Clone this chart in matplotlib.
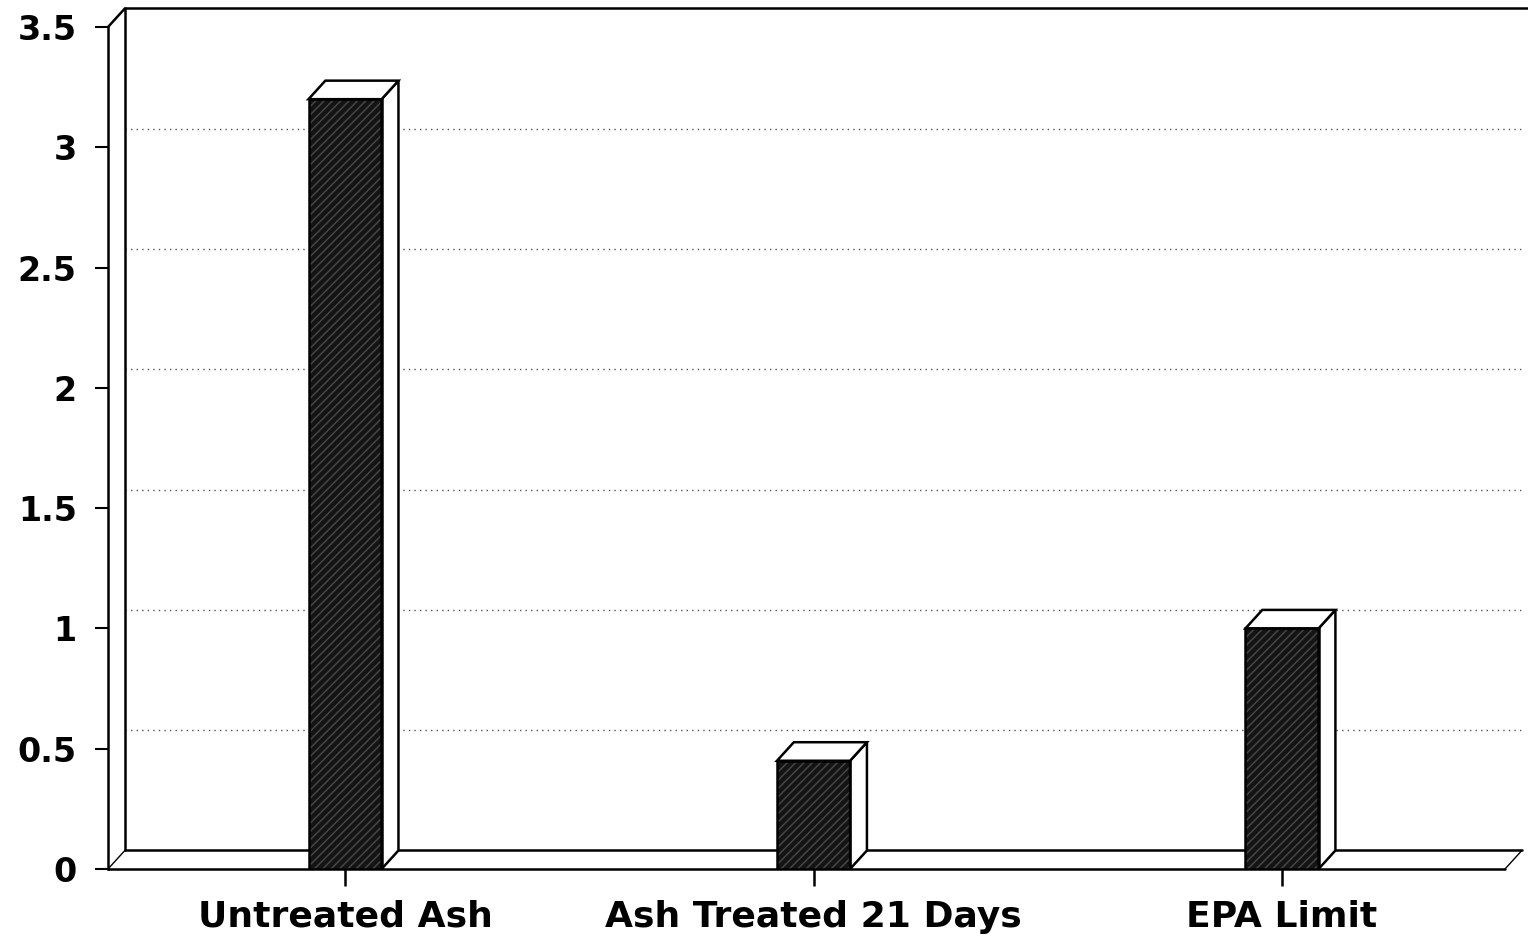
import matplotlib.pyplot as plt
from matplotlib.patches import Polygon

plt.rcParams['font.family'] = ['DejaVu Sans']

categories = ["Untreated Ash", "Ash Treated 21 Days", "EPA Limit"]
values = [3.2, 0.45, 1.0]
yticks = [0, 0.5, 1, 1.5, 2, 2.5, 3, 3.5]
ytick_labels = ["0", "0.5", "1", "1.5", "2", "2.5", "3", "3.5"]

# depth offsets of the pseudo-3D box (in data units)
DX, DY = 0.036, 0.077
BAR_W = 0.156
XMIN, XMAX = -0.506, 2.476
YMAX = 3.5

fig = plt.figure(figsize=(15.28, 9.42), dpi=100)
ax = fig.add_axes([108 / 1528, 73 / 942, 1397 / 1528, 842 / 942])
ax.set_xlim(XMIN, XMAX)
ax.set_ylim(0, YMAX)
for s in ("top", "right", "bottom"):
    ax.spines[s].set_visible(False)
ax.spines["left"].set_linewidth(1.8)

line_kw = dict(color="black", lw=1.8, clip_on=False, solid_capstyle="round")

# back wall gridlines (dotted)
for v in yticks[1:-1]:
    ax.plot([XMIN + DX, XMAX + DX], [v + DY, v + DY], ls=(0, (1, 3)),
            color="#555555", lw=1.0, clip_on=False, zorder=1)

# left wall and top edge
ax.plot([XMIN + DX, XMIN + DX], [DY, YMAX + DY], **line_kw, zorder=2)
ax.plot([XMIN, XMIN + DX], [YMAX, YMAX + DY], **line_kw, zorder=2)
ax.plot([XMIN + DX, XMAX + DX + 0.02], [YMAX + DY, YMAX + DY], **line_kw, zorder=2)

# floor slab
ax.plot([XMIN, XMAX], [0, 0], **line_kw, zorder=2)
ax.plot([XMIN + DX, XMAX + DX], [DY, DY], **line_kw, zorder=2)
ax.plot([XMIN, XMIN + DX], [0, DY], color="black", lw=1.0, clip_on=False, zorder=2)
ax.plot([XMAX, XMAX + DX], [0, DY], color="black", lw=1.0, clip_on=False, zorder=2)

# 3D bars
for i, v in enumerate(values):
    x0, x1 = i - BAR_W / 2, i + BAR_W / 2
    front = [(x0, 0), (x1, 0), (x1, v), (x0, v)]
    ax.add_patch(Polygon(front, closed=True, facecolor="#141414",
                         edgecolor="#4a4a4a", hatch="////", lw=0, zorder=5))
    ax.add_patch(Polygon(front, closed=True, facecolor="none",
                         edgecolor="black", lw=1.8, zorder=6))
    side = [(x1, 0), (x1 + DX, DY), (x1 + DX, v + DY), (x1, v)]
    ax.add_patch(Polygon(side, closed=True, facecolor="white",
                         edgecolor="black", lw=1.8, zorder=5))
    top = [(x0, v), (x1, v), (x1 + DX, v + DY), (x0 + DX, v + DY)]
    ax.add_patch(Polygon(top, closed=True, facecolor="white",
                         edgecolor="black", lw=1.8, zorder=5))

ax.set_yticks(yticks)
ax.set_yticklabels(ytick_labels, fontsize=24, fontweight="bold")
ax.set_xticks(range(len(categories)))
ax.set_xticklabels(categories, fontsize=26, fontweight="bold")
ax.tick_params(axis="y", length=9.5, width=1.5, pad=13)
ax.tick_params(axis="x", length=12, width=1.8, pad=10)

fig.savefig("out.png", dpi=100, facecolor="white")
